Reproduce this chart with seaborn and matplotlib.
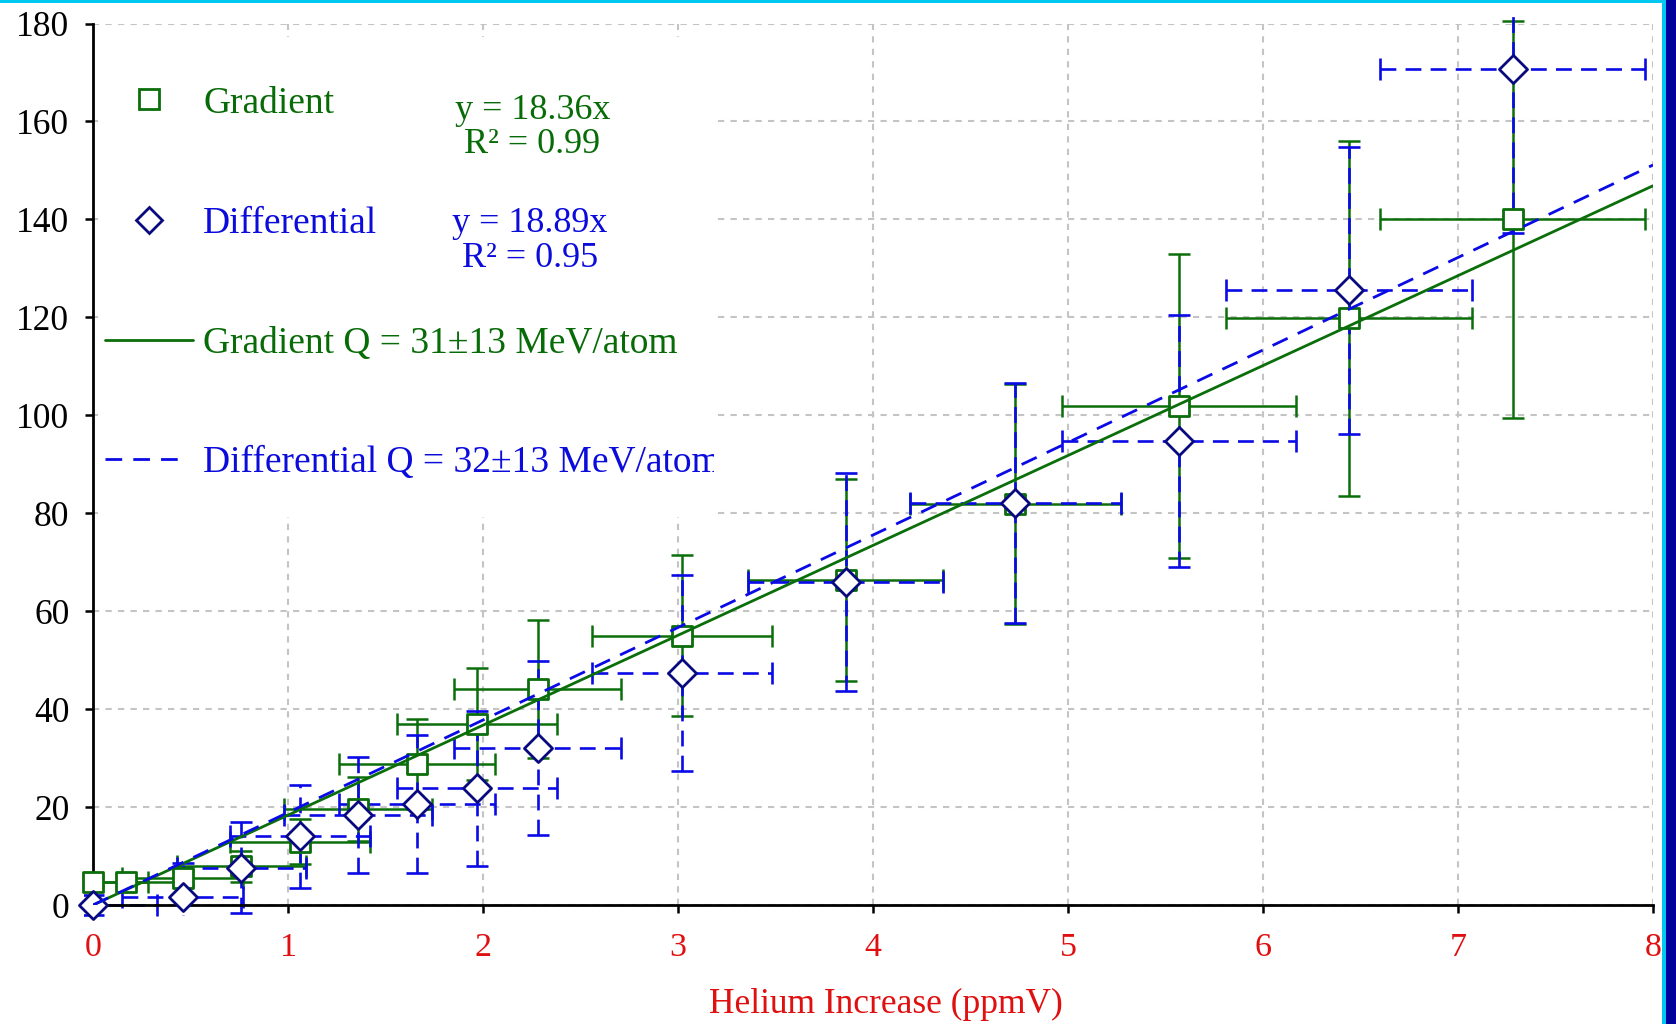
import numpy as np
import pandas as pd
import matplotlib
matplotlib.use("Agg")
import matplotlib.pyplot as plt
import seaborn as sns
from matplotlib.patches import Rectangle

# Helium increase (ppmV) and its horizontal uncertainty, shared by both methods
helium_x = [0.0, 0.17, 0.46, 0.76, 1.06, 1.36, 1.66, 1.97, 2.28, 3.02, 3.86, 4.73, 5.57, 6.44, 7.28]
helium_xerr = [0.28, 0.29, 0.31, 0.33, 0.36, 0.38, 0.40, 0.41, 0.43, 0.46, 0.50, 0.54, 0.60, 0.63, 0.68]

# Gradient method
gradient_y = [4.8, 4.7, 5.5, 7.9, 12.9, 19.6, 28.8, 37.0, 44.1, 55.0, 66.3, 81.8, 101.9, 119.8, 140.0]
gradient_yerr = [1.0, 1.0, 1.5, 3.2, 4.6, 6.6, 9.1, 11.4, 14.1, 16.5, 20.6, 24.5, 31.0, 36.3, 40.5]

# Differential method
differential_x = [0.0, 0.46, 0.76, 1.06, 1.36, 1.66, 1.97, 2.28, 3.02, 3.86, 4.73, 5.57, 6.44, 7.28]
differential_xerr = [0.33, 0.31, 0.33, 0.36, 0.38, 0.40, 0.41, 0.43, 0.46, 0.50, 0.54, 0.60, 0.63, 0.68]
differential_y = [0.0, 1.6, 7.6, 14.0, 18.4, 20.6, 23.8, 32.0, 47.3, 66.0, 82.0, 94.8, 125.5, 170.8]
differential_yerr = [2.0, 7.0, 9.3, 10.5, 11.9, 14.1, 15.8, 17.8, 20.0, 22.3, 24.5, 25.7, 29.3, 33.5]

# Fits through the origin
gradient_slope = 18.36
gradient_r2 = 0.99
differential_slope = 18.89
differential_r2 = 0.95
fit_x = np.array([0.0, 8.0])

x_ticks = [0, 1, 2, 3, 4, 5, 6, 7, 8]
y_ticks = [0, 20, 40, 60, 80, 100, 120, 140, 160, 180]

GREEN = "#0a6e0a"
GREEN_TXT = "#076b07"
BLUE = "#0a0ae6"
NAVY = "#0a0a80"
BLUE_TXT = "#0b0bdc"
RED = "#e01010"

sns.set_theme(style="white")
plt.rcParams["font.family"] = ["Liberation Serif", "DejaVu Serif"]

fig = plt.figure(figsize=(16.76, 10.24), dpi=100)
fig.patch.set_facecolor("white")
ax = fig.add_axes([0.0555, 0.1162, 0.9308, 0.8608])

ax.set_xlim(0, 8)
ax.set_ylim(0, 180)
ax.set_xticks(x_ticks)
ax.set_yticks(y_ticks)
ax.set_xticklabels([str(t) for t in x_ticks])
ax.set_yticklabels([str(t) for t in y_ticks])

ax.set_axisbelow(True)
ax.grid(True, color="#c4c4c4", linestyle=(0, (3, 3)), linewidth=1.5)
for side in ["top", "right"]:
    ax.spines[side].set_visible(False)
for side in ["left", "bottom"]:
    ax.spines[side].set_color("black")
    ax.spines[side].set_linewidth(2.0)

ax.tick_params(axis="both", direction="out", length=6, width=1.8, color="black",
               left=True, bottom=True)
ax.tick_params(axis="y", labelsize=25.5, labelcolor="black", pad=11)
ax.tick_params(axis="x", labelsize=24.5, labelcolor=RED, pad=14)

# White panel behind the key
key_panel = Rectangle((0.003, 0.44), 0.395, 0.545, transform=ax.transAxes,
                      facecolor="white", edgecolor="none", zorder=1)
ax.add_patch(key_panel)

clip_box = Rectangle((-0.006, -0.013), 1.012, 1.023, transform=ax.transAxes,
                     facecolor="none", edgecolor="none")
ax.add_patch(clip_box)

# Error bars
eb_g = ax.errorbar(helium_x, gradient_y, xerr=helium_xerr, yerr=gradient_yerr,
                   fmt="none", ecolor=GREEN, elinewidth=1.8, capsize=8,
                   capthick=1.8, zorder=2)
eb_d = ax.errorbar(differential_x, differential_y, xerr=differential_xerr,
                   yerr=differential_yerr, fmt="none", ecolor=BLUE,
                   elinewidth=1.9, capsize=8, capthick=1.9, zorder=2.5)
for coll in eb_d[2]:
    coll.set_linestyle((0, (6, 3.5)))
for eb in (eb_g, eb_d):
    for art in list(eb[1]) + list(eb[2]):
        art.set_clip_path(clip_box)

# Data markers
df_g = pd.DataFrame({"x": helium_x, "y": gradient_y})
df_d = pd.DataFrame({"x": differential_x, "y": differential_y})
sns.scatterplot(data=df_g, x="x", y="y", ax=ax, marker="s", s=215,
                color="white", edgecolor=GREEN, linewidth=2.0, zorder=4,
                clip_on=False, legend=False)
sns.scatterplot(data=df_d, x="x", y="y", ax=ax, marker="D", s=205,
                color="white", edgecolor=NAVY, linewidth=2.0, zorder=5,
                clip_on=False, legend=False)

# Fit lines
sns.lineplot(x=fit_x, y=gradient_slope * fit_x, ax=ax, color=GREEN,
             linewidth=2.0, zorder=6)
sns.lineplot(x=fit_x, y=differential_slope * fit_x, ax=ax, color=BLUE,
             linewidth=2.0, zorder=6)
ax.lines[-1].set_dashes((6, 4))
ax.set_ylabel("")
ax.set_xlabel("Helium Increase (ppmV)", fontsize=25.5, color=RED)
ax.xaxis.set_label_coords(0.508, -0.094)

# Key
T = ax.transAxes
ax.plot([0.0356], [0.914], marker="s", ms=14, mfc="white", mec=GREEN, mew=2.0,
        transform=T, zorder=7, clip_on=False)
ax.text(0.0706, 0.914, "Gradient", transform=T, fontsize=27, color=GREEN_TXT,
        va="center_baseline", ha="left", zorder=7)
ax.plot([0.0356], [0.777], marker="D", ms=13.5, mfc="white", mec=NAVY, mew=2.0,
        transform=T, zorder=7, clip_on=False)
ax.text(0.0706, 0.777, "Differential", transform=T, fontsize=27, color=BLUE_TXT,
        va="center_baseline", ha="left", zorder=7)
ax.plot([0.0075, 0.0644], [0.641, 0.641], color=GREEN, lw=2.0, transform=T, zorder=7)
ax.text(0.0706, 0.641, "Gradient Q = 31\u00b113 MeV/atom", transform=T,
        fontsize=27, color=GREEN_TXT, va="center_baseline", ha="left", zorder=7)
ax.plot([0.0075, 0.060], [0.506, 0.506], color=BLUE, lw=2.0, dashes=(6, 4),
        transform=T, zorder=7)
diff_key = ax.text(0.0706, 0.506, "Differential Q = 32\u00b113 MeV/atom", transform=T,
                   fontsize=27, color=BLUE_TXT, va="center_baseline", ha="left",
                   zorder=7, clip_on=True)
diff_key.set_clip_path(key_panel)

ax.text(0.2816, 0.906, f"y = {gradient_slope:.2f}x", transform=T, fontsize=26,
        color=GREEN_TXT, ha="center", va="center_baseline", zorder=7)
ax.text(0.2816, 0.867, f"R\u00b2 = {gradient_r2:.2f}", transform=T, fontsize=26,
        color=GREEN_TXT, ha="center", va="center_baseline", zorder=7)
ax.text(0.280, 0.778, f"y = {differential_slope:.2f}x", transform=T, fontsize=26,
        color=BLUE_TXT, ha="center", va="center_baseline", zorder=7)
ax.text(0.280, 0.738, f"R\u00b2 = {differential_r2:.2f}", transform=T, fontsize=26,
        color=BLUE_TXT, ha="center", va="center_baseline", zorder=7)

# Window frame edges
fig.patches.append(Rectangle((0, 1 - 3 / 1024), 1, 3 / 1024, transform=fig.transFigure,
                             facecolor="#00c8f0", edgecolor="none", zorder=10))
fig.patches.append(Rectangle((1662 / 1676, 0), 4 / 1676, 1, transform=fig.transFigure,
                             facecolor="#00c8f0", edgecolor="none", zorder=10))
fig.patches.append(Rectangle((1666 / 1676, 0), 10 / 1676, 1, transform=fig.transFigure,
                             facecolor="#00009a", edgecolor="none", zorder=10))

fig.savefig("out.png", dpi=100, facecolor="white")
